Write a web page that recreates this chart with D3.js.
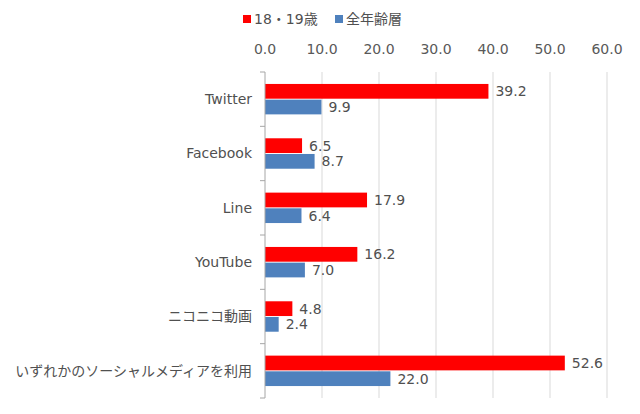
<!DOCTYPE html>
<html>
<head>
<meta charset="utf-8">
<script src="https://cdn.jsdelivr.net/npm/d3@7"></script>
<style>
  body { margin: 0; background: #fff; }
  text { font-family: "DejaVu Sans", "Noto Sans CJK JP", sans-serif; }
</style>
</head>
<body>
<svg id="chart" width="640" height="414"></svg>
<script>
// data
const categories = ["Twitter", "Facebook", "Line", "YouTube", "ニコニコ動画", "いずれかのソーシャルメディアを利用"];
const seriesNames = ["18・19歳", "全年齢層"];
const youngValues = [39.2, 6.5, 17.9, 16.2, 4.8, 52.6];
const allValues = [9.9, 8.7, 6.4, 7.0, 2.4, 22.0];
const xTicks = [0, 10, 20, 30, 40, 50, 60];
const colors = ["#ff0000", "#4f81bd"];

const margin = {top: 72, right: 33, bottom: 16, left: 265};
const width = 640 - margin.left - margin.right;
const height = 414 - margin.top - margin.bottom;
const fs = 14;
const textColor = "#505050";

const svg = d3.select("#chart");
const g = svg.append("g").attr("transform", `translate(${margin.left},${margin.top})`);

const x = d3.scaleLinear().domain([0, 60]).range([0, width]);
const y = d3.scaleBand().domain(categories).range([0, height]).paddingInner(0.44).paddingOuter(0.22);
const sub = d3.scaleBand().domain([0, 1]).range([0, y.bandwidth()]).paddingInner(0.06);

// gridlines
g.selectAll(".grid")
  .data(xTicks.slice(1))
  .enter().append("line")
  .attr("x1", d => x(d)).attr("x2", d => x(d))
  .attr("y1", 0).attr("y2", height)
  .attr("stroke", "#d9d9d9").attr("stroke-width", 1);

// top axis labels
g.selectAll(".xlab")
  .data(xTicks)
  .enter().append("text")
  .attr("x", d => x(d)).attr("y", -18)
  .attr("text-anchor", "middle")
  .attr("font-size", fs).attr("fill", "#595959")
  .text(d => d.toFixed(1));

// bars
const series = [youngValues, allValues];
series.forEach((vals, si) => {
  g.selectAll(".bar" + si)
    .data(categories)
    .enter().append("rect")
    .attr("x", 0)
    .attr("y", d => y(d) + sub(si))
    .attr("width", (d, i) => x(vals[i]))
    .attr("height", sub.bandwidth())
    .attr("fill", colors[si]);

  g.selectAll(".lab" + si)
    .data(categories)
    .enter().append("text")
    .attr("x", (d, i) => x(vals[i]) + 7)
    .attr("y", d => y(d) + sub(si) + sub.bandwidth() / 2)
    .attr("dy", "0.35em")
    .attr("font-size", fs).attr("fill", textColor)
    .text((d, i) => vals[i].toFixed(1));
});

// left axis line and ticks
g.append("line")
  .attr("x1", 0).attr("x2", 0).attr("y1", 0).attr("y2", height)
  .attr("stroke", "#a6a6a6");
const step = height / categories.length;
g.selectAll(".ytick")
  .data(d3.range(categories.length + 1))
  .enter().append("line")
  .attr("x1", -5).attr("x2", 0)
  .attr("y1", d => d * step).attr("y2", d => d * step)
  .attr("stroke", "#a6a6a6");

// category labels
g.selectAll(".ylab")
  .data(categories)
  .enter().append("text")
  .attr("x", -13)
  .attr("y", d => y(d) + y.bandwidth() / 2)
  .attr("dy", "0.35em")
  .attr("text-anchor", "end")
  .attr("font-size", fs).attr("fill", textColor)
  .text(d => d);

// legend
const legend = svg.append("g").attr("transform", "translate(243,19)");
const legX = [0, 92];
seriesNames.forEach((name, i) => {
  legend.append("rect")
    .attr("x", legX[i]).attr("y", -4).attr("width", 8).attr("height", 8)
    .attr("fill", colors[i]);
  legend.append("text")
    .attr("x", legX[i] + 11).attr("y", 0).attr("dy", "0.35em")
    .attr("font-size", fs).attr("fill", textColor)
    .text(name);
});
</script>
</body>
</html>
